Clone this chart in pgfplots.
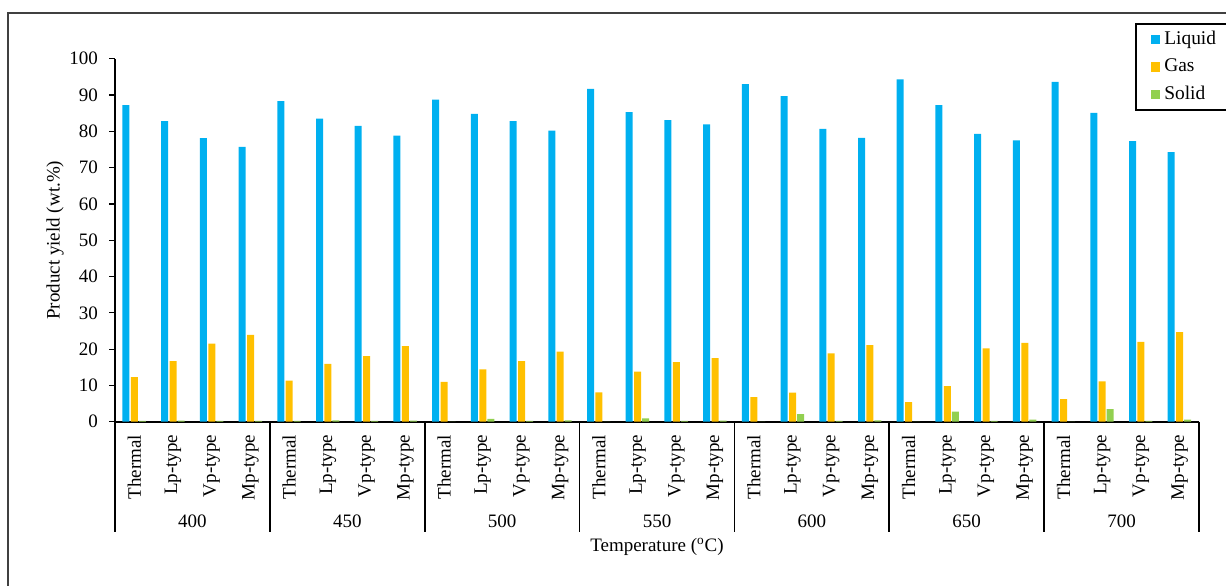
\documentclass[border=0pt]{standalone}
\usepackage{pgfplots}
\pgfplotsset{compat=1.18}
\usepackage{pgfplotstable}
\usepackage{fontspec}
\setmainfont{Liberation Serif}
\definecolor{liquid}{HTML}{00B0F0}
\definecolor{gas}{HTML}{FFC000}
\definecolor{solid}{HTML}{92D050}
\pgfplotstableread{
x liquid gas solid
0 87.2 12.3 0.2
1 82.8 16.7 0.3
2 78.1 21.5 0.2
3 75.7 23.9 0.2
4 88.3 11.3 0.2
5 83.5 15.9 0.4
6 81.5 18.1 0.2
7 78.8 20.8 0.3
8 88.7 11.0 0
9 84.8 14.4 0.8
10 82.8 16.7 0.2
11 80.2 19.3 0.4
12 91.7 8.1 0
13 85.3 13.8 0.9
14 83.1 16.4 0.2
15 81.9 17.5 0.3
16 93.0 6.8 0
17 89.7 8.0 2.1
18 80.7 18.8 0.2
19 78.2 21.1 0.4
20 94.3 5.4 0
21 87.2 9.8 2.8
22 79.3 20.2 0.2
23 77.5 21.7 0.6
24 93.6 6.2 0
25 85.1 11.1 3.5
26 77.3 22.0 0.2
27 74.3 24.7 0.6
}\datatable
\begin{document}
\begin{tikzpicture}
\useasboundingbox (0pt,0pt) rectangle (613pt,-292.5pt);
\draw[line width=0.7pt, draw=black!75] (4pt,-300pt) -- (4pt,-6.4pt) -- (620pt,-6.4pt);
\begin{axis}[
  at={(57.5pt,-210.85pt)}, anchor=south west,
  scale only axis, width=542pt, height=181.5pt,
  xmin=-0.5, xmax=27.5, ymin=0, ymax=100,
  axis x line*=bottom, axis y line*=left,
  axis line style={black, line width=0.8pt},
  clip=false,
  ytick={0,10,...,100},
  ytick style={black, line width=0.6pt},
  major tick length=3pt,
  tick align=outside,
  yticklabel style={font=\fontsize{9.5}{11}\selectfont, xshift=-2pt},
  /pgf/number format/assume math mode=true,
  xtick={0,...,27},
  xtick style={draw=none},
  xticklabels={Thermal,Lp-type,Vp-type,Mp-type,Thermal,Lp-type,Vp-type,Mp-type,Thermal,Lp-type,Vp-type,Mp-type,Thermal,Lp-type,Vp-type,Mp-type,Thermal,Lp-type,Vp-type,Mp-type,Thermal,Lp-type,Vp-type,Mp-type,Thermal,Lp-type,Vp-type,Mp-type},
  xticklabel style={rotate=90, anchor=east, font=\fontsize{9.5}{11}\selectfont},
  legend style={at={(axis cs:25.85,109.8)}, anchor=north west, draw=black, line width=1pt,
    font=\fontsize{9.7}{11}\selectfont, row sep=1.75pt, inner xsep=7.5pt, inner ysep=1.5pt,
    nodes={text width=32pt, align=left}},
  legend cell align=left,
  legend image code/.code={\fill[#1] (0pt,-2.3pt) rectangle (4.6pt,2.3pt);},
]
\addplot[ybar, bar width=3.5pt, bar shift=-4.2pt, fill=liquid, draw=none] table[x=x,y=liquid]{\datatable};
\addplot[ybar, bar width=3.5pt, bar shift=0pt, fill=gas, draw=none] table[x=x,y=gas]{\datatable};
\addplot[ybar, bar width=3.5pt, bar shift=4pt, fill=solid, draw=none] table[x=x,y=solid]{\datatable};
\legend{Liquid,Gas,Solid}
\pgfplotsinvokeforeach{-0.5,3.5,7.5,11.5,15.5,19.5,23.5,27.5}{
  \draw[black, line width=0.8pt] (axis cs:#1,0) -- (axis cs:#1,-30.4);
}
\node[font=\fontsize{9.5}{11}\selectfont] at (axis cs:1.5,-27.4) {400};
\node[font=\fontsize{9.5}{11}\selectfont] at (axis cs:5.5,-27.4) {450};
\node[font=\fontsize{9.5}{11}\selectfont] at (axis cs:9.5,-27.4) {500};
\node[font=\fontsize{9.5}{11}\selectfont] at (axis cs:13.5,-27.4) {550};
\node[font=\fontsize{9.5}{11}\selectfont] at (axis cs:17.5,-27.4) {600};
\node[font=\fontsize{9.5}{11}\selectfont] at (axis cs:21.5,-27.4) {650};
\node[font=\fontsize{9.5}{11}\selectfont] at (axis cs:25.5,-27.4) {700};
\node[font=\fontsize{9.5}{11}\selectfont] at (axis cs:13.5,-34.5) {Temperature (\textsuperscript{o}C)};
\node[font=\fontsize{9.5}{11}\selectfont, rotate=90] at (axis cs:-2.05,50) {Product yield (wt.\%)};
\end{axis}
\end{tikzpicture}
\end{document}
